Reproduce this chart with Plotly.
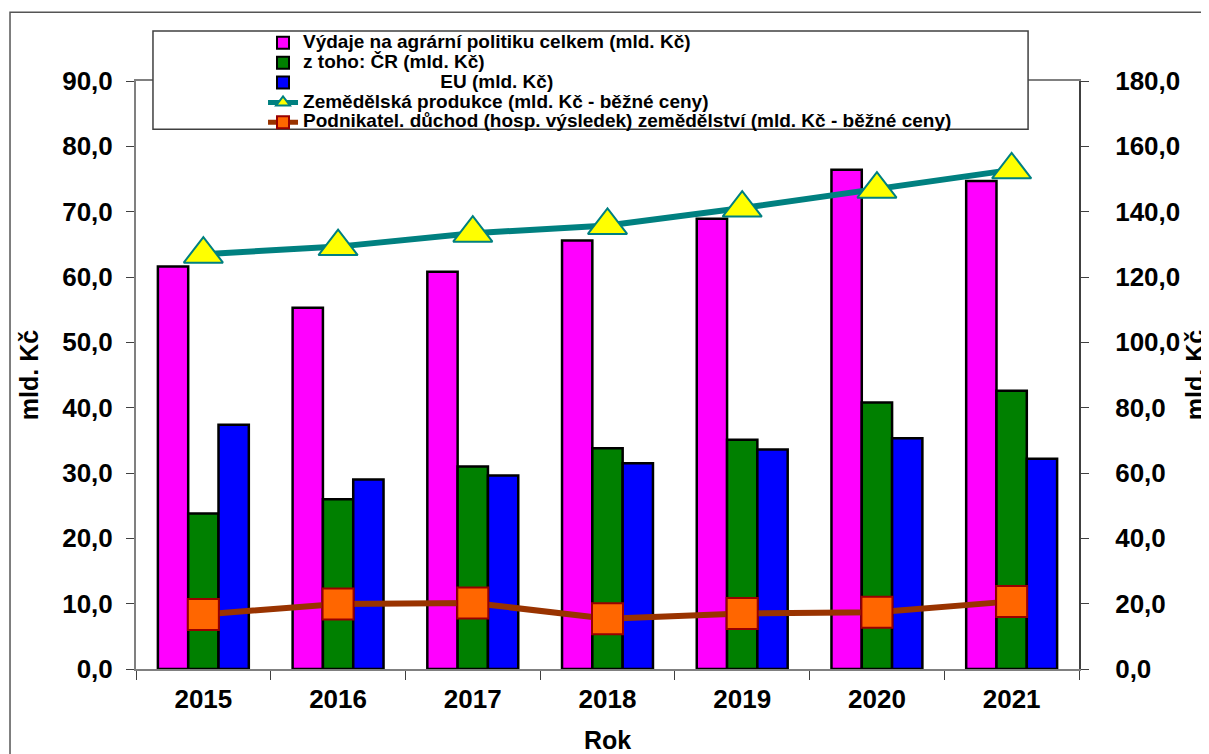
import plotly.graph_objects as go

years = ["2015", "2016", "2017", "2018", "2019", "2020", "2021"]
vydaje_celkem = [61.6, 55.3, 60.8, 65.6, 68.9, 76.4, 74.7]
vydaje_cr = [23.8, 26.0, 31.0, 33.8, 35.1, 40.8, 42.6]
vydaje_eu = [37.4, 29.0, 29.6, 31.5, 33.6, 35.3, 32.2]
zem_produkce = [127.0, 129.3, 133.4, 135.8, 141.1, 146.9, 152.8]
podn_duchod = [16.7, 19.9, 20.2, 15.4, 17.0, 17.4, 20.7]

names = [
    "Výdaje na agrární politiku celkem (mld. Kč)",
    "z toho: ČR (mld. Kč)",
    "\u00a0" * 26 + "EU (mld. Kč)",
    "Zemědělská produkce (mld. Kč - běžné ceny)",
    "Podnikatel. důchod (hosp. výsledek) zemědělství (mld. Kč - běžné ceny)",
]


def leg(t):
    return '<span style="font-size:19px">' + t + "</span>"


FONT = "Arial, Liberation Sans, sans-serif"

fig = go.Figure()
bar_colors = ["#FF00FF", "#008000", "#0000FF"]
for vals, nm, col in zip([vydaje_celkem, vydaje_cr, vydaje_eu], names[:3], bar_colors):
    fig.add_trace(go.Bar(
        x=years, y=vals, name=leg(nm),
        marker=dict(color=col, line=dict(color="black", width=2.5)),
        yaxis="y",
    ))

fig.add_trace(go.Scatter(
    x=years, y=zem_produkce, name=leg(names[3]), yaxis="y2",
    mode="lines+markers",
    line=dict(color="#008080", width=6),
    marker=dict(symbol="triangle-up", size=34, color="#FFFF00",
                line=dict(color="#008080", width=2)),
))
fig.add_trace(go.Scatter(
    x=years, y=podn_duchod, name=leg(names[4]), yaxis="y2",
    mode="lines+markers",
    line=dict(color="#993300", width=6),
    marker=dict(symbol="square", size=31, color="#FF6600",
                line=dict(color="#990000", width=2)),
))

tickfont = dict(family=FONT, size=26, color="black", weight="bold")
titlefont = dict(family=FONT, size=25, color="black", weight="bold")

fig.update_layout(
    width=1201, height=746,
    margin=dict(l=128, r=130, t=73, b=85, autoexpand=False),
    paper_bgcolor="white", plot_bgcolor="white",
    separators=", ",
    barmode="group", bargap=0.325, bargroupgap=0,
    showlegend=True,
    legend=dict(
        x=0.1347, xanchor="left", y=1.0905, yanchor="top",
        bgcolor="rgba(0,0,0,0)", borderwidth=0,
        font=dict(family=FONT, size=13, color="black", weight="bold"),
        itemsizing="constant", traceorder="normal",
    ),
    xaxis=dict(
        type="category", range=[-0.5, 6.5],
        showline=True, linecolor="#808080", linewidth=2, mirror=True,
        ticks="outside", tickson="boundaries", ticklen=9, tickcolor="#404040",
        ticklabelstandoff=6,
        tickfont=tickfont, showgrid=False, zeroline=False,
        title=dict(text="Rok", font=titlefont, standoff=20),
    ),
    yaxis=dict(
        range=[0, 90], dtick=10, tickformat=".1f",
        showline=True, linecolor="#808080", linewidth=2,
        ticks="outside", ticklen=8, tickcolor="#404040",
        ticklabelstandoff=8,
        tickfont=tickfont, showgrid=False, zeroline=False,
        title=dict(text="mld. Kč", font=titlefont, standoff=16),
    ),
    yaxis2=dict(
        range=[0, 180], dtick=20, tickformat=".1f",
        overlaying="y", side="right",
        showline=True, linecolor="#404040", linewidth=2,
        ticks="outside", ticklen=8, tickcolor="#404040",
        ticklabelstandoff=21,
        tickfont=tickfont, showgrid=False, zeroline=False,
        title=dict(text="mld. Kč", font=titlefont, standoff=14),
    ),
    shapes=[
        dict(type="rect", xref="paper", yref="paper",
             x0=0.018, x1=0.946, y0=0.918, y1=1.085,
             fillcolor="white", line=dict(color="#404040", width=1.5),
             layer="above"),
        dict(type="rect", xref="paper", yref="paper",
             x0=-0.1336, x1=1.2, y0=-0.2, y1=1.117,
             fillcolor="rgba(0,0,0,0)", line=dict(color="#555555", width=1.5),
             layer="above"),
    ],
)

fig.write_html("out.html")
